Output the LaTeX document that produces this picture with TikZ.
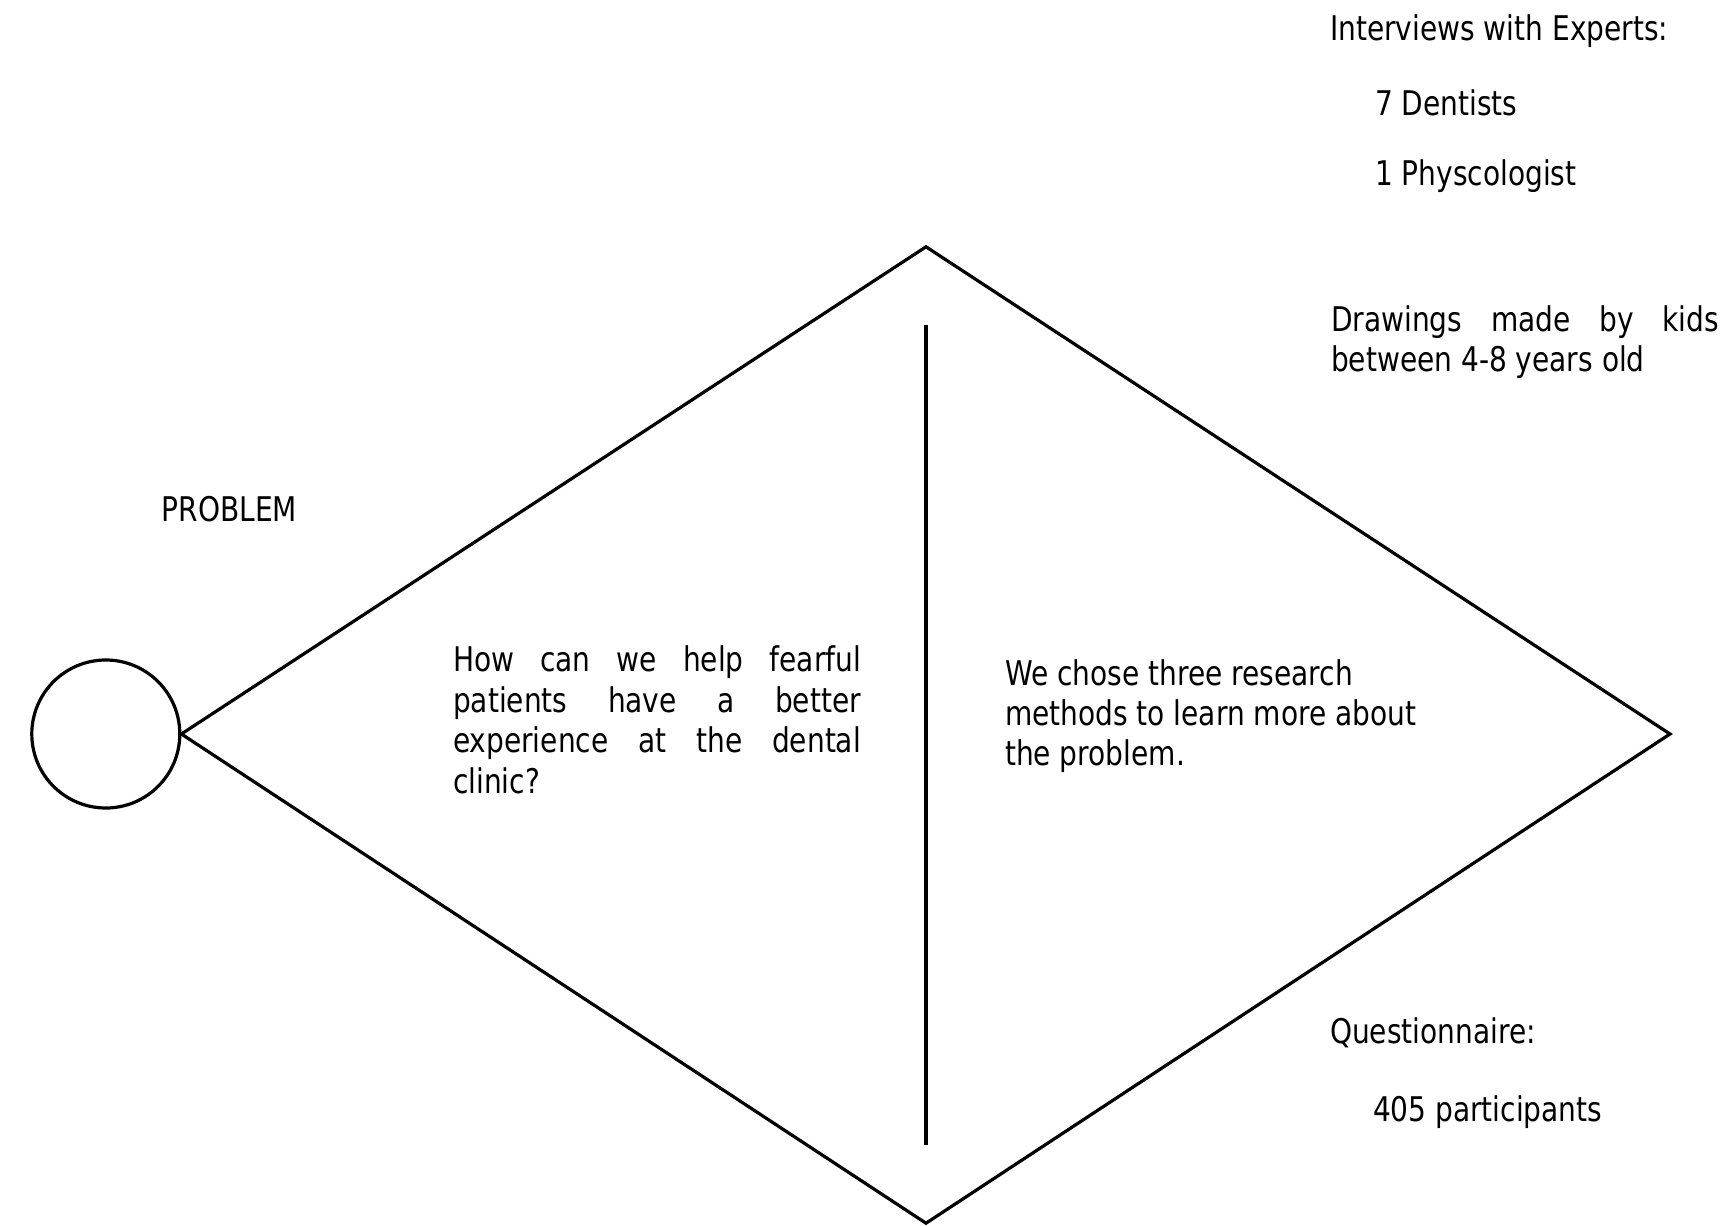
\documentclass[tikz,border=0pt]{standalone}
\usepackage{fontspec}
\setmainfont[FakeStretch=0.825]{DejaVu Sans}
\begin{document}
\begin{tikzpicture}[x=1pt,y=-1pt,
  lbl/.style={anchor=base west, inner sep=0pt, outer sep=0pt,
              font=\fontsize{34}{40.5}\selectfont},
  shapeline/.style={line width=3.2pt, line join=miter},
  divider/.style={line width=3.8pt}]
\path[use as bounding box] (0,0) rectangle (1722,1226);

% start circle and the diamond
\node[draw, shapeline, circle, minimum size=148pt, inner sep=0pt] (start) at (105.8,734) {};
\coordinate (top) at (926,246.8);
\coordinate (right) at (1670,734);
\coordinate (bottom) at (926,1223.2);
\draw[shapeline] (start.east) -- (top) -- (right) -- (bottom) -- cycle;

% central divider
\coordinate (divtop) at (926,325);
\coordinate (divbot) at (926,1145);
\draw[divider] (divtop) -- (divbot);

% labels
\node[lbl] (problem) at (161.7,521.7) {PROBLEM};

\node[lbl] (q1) at (453,671.7) {\makebox[408pt][s]{How can we help fearful}};
\node[lbl] (q2) at (453,712.2) {\makebox[408pt][s]{patients have a better}};
\node[lbl] (q3) at (453,752.7) {\makebox[408pt][s]{experience at the dental}};
\node[lbl] (q4) at (453,793.2) {clinic?};

\node[lbl] (m1) at (1005,685) {We chose three research};
\node[lbl] (m2) at (1005,725) {methods to learn more about};
\node[lbl] (m3) at (1005,765) {the problem.};

\node[lbl] (iv) at (1330,40) {Interviews with Experts:};
\node[lbl] (dent) at (1375,115) {7 Dentists};
\node[lbl] (psy) at (1375,185) {1 Physcologist};

\node[lbl] (dr1) at (1331,331.7) {\makebox[388pt][s]{Drawings made by kids}};
\node[lbl] (dr2) at (1331,371.7) {between 4-8 years old};

\node[lbl] (qn) at (1330,1043.3) {Questionnaire:};
\node[lbl] (part) at (1373,1121.7) {405 participants};
\end{tikzpicture}
\end{document}
